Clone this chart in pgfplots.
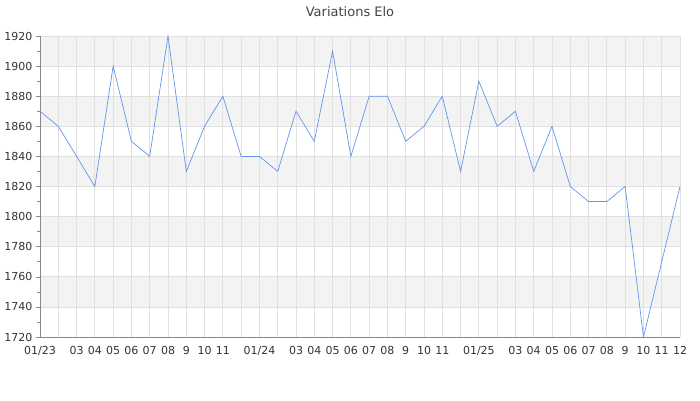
\documentclass[border=0pt]{standalone}
\usepackage{pgfplots}
\pgfplotsset{compat=1.18}
\usepackage{fontspec}
\setmainfont{DejaVu Sans}
\definecolor{linec}{RGB}{100,149,237}
\definecolor{bandc}{RGB}{243,243,243}
\definecolor{gridc}{RGB}{224,224,224}
\definecolor{axc}{RGB}{136,136,136}
\definecolor{txt}{RGB}{51,51,51}
\definecolor{ttl}{RGB}{68,68,68}
\begin{document}
\begin{tikzpicture}
\begin{axis}[
  set layers,
  at={(40pt,63pt)}, anchor=south west,
  width=640pt, height=301pt, scale only axis,
  xmin=0, xmax=35, ymin=1720, ymax=1920,
  clip=false,
  axis lines*=left,
  axis line style={axc},
  x axis line style={-},
  y axis line style={-},
  xtick={0,...,35},
  xticklabels={01/23,,03,04,05,06,07,08,9,10,11,,01/24,,03,04,05,06,07,08,9,10,11,,01/25,,03,04,05,06,07,08,9,10,11,12},
  ytick={1720,1740,...,1920},
  minor y tick num=1,
  xmajorgrids, ymajorgrids,
  grid style={gridc, line width=0.8pt},
  major x tick style={draw=none},
  major y tick style={axc, line width=0.6pt},
  minor y tick style={axc, line width=0.6pt},
  tick align=outside,
  major tick length=4pt, minor tick length=3pt,
  ticklabel style={txt, font=\fontsize{11}{13}\selectfont},
  /pgf/number format/assume math mode=true,
  /pgf/number format/1000 sep={},
  xticklabel style={yshift=-2pt},
]
\begin{pgfonlayer}{axis background}
\fill[bandc] (axis cs:0,1900) rectangle (axis cs:35,1920);
\fill[bandc] (axis cs:0,1860) rectangle (axis cs:35,1880);
\fill[bandc] (axis cs:0,1820) rectangle (axis cs:35,1840);
\fill[bandc] (axis cs:0,1780) rectangle (axis cs:35,1800);
\fill[bandc] (axis cs:0,1740) rectangle (axis cs:35,1760);
\end{pgfonlayer}
\addplot[linec, line width=0.7pt, mark=none] coordinates {
(0,1870) (1,1860) (2,1840) (3,1820) (4,1900) (5,1850) (6,1840) (7,1920)
(8,1830) (9,1860) (10,1880) (11,1840) (12,1840) (13,1830) (14,1870) (15,1850)
(16,1910) (17,1840) (18,1880) (19,1880) (20,1850) (21,1860) (22,1880) (23,1830)
(24,1890) (25,1860) (26,1870) (27,1830) (28,1860) (29,1820) (30,1810) (31,1810)
(32,1820) (33,1720) (34,1770) (35,1820)
};
\end{axis}
\node[ttl, font=\fontsize{13}{15}\selectfont] at (350pt,388pt) {Variations Elo};
\path (0,0) rectangle (700pt,400pt);
\end{tikzpicture}
\end{document}
